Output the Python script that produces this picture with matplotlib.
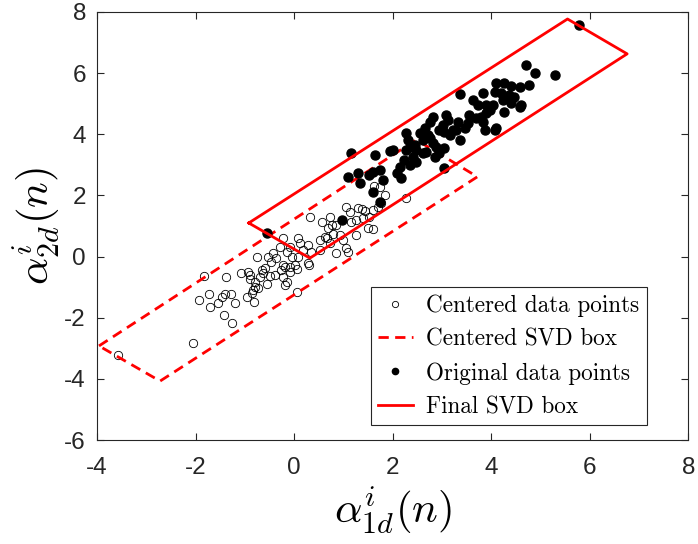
import numpy as np
import matplotlib
matplotlib.use("Agg")
import matplotlib.pyplot as plt
from matplotlib.lines import Line2D

plt.rcParams['mathtext.fontset'] = 'cm'
plt.rcParams['axes.unicode_minus'] = False

# centered data (open circles)
cx = [-1.83, -1.38, -1.93, -1.72, -1.71, -1.54, -1.47, -1.40, -1.28, -1.20,
      -1.43, -1.26, -2.05, -3.57, -1.07, -0.93, -0.90, -0.76, -0.96, -0.83,
      -0.80, -0.86, -0.82, -0.90, -0.70, -0.55, -0.59, -0.66,
      0.33, 1.06, 1.13, 1.30, 1.37, 1.43, 1.53, 1.60, 1.70, 1.77,
      1.84, 2.28, 0.56, 0.72, 0.76, 0.69, 0.86, 1.16, 1.26, 1.40,
      1.50, 1.60, 1.26, 0.93, 0.79, 0.67, 0.62, 0.52, 0.72, 1.06,
      1.09, 0.85, 0.08, 0.12, 0.28, 0.18, 0.35, 0.52, -0.22, -0.29,
      -0.09, -0.15, -0.05, 0.08, 0.01, 0.05, -0.09, 0.28, 0.30, -0.53,
      -0.43, -0.46, -0.36, -0.22, -0.19, -0.26, -0.63, -0.39, -0.49, -0.22,
      -0.15, -0.19, -0.09, -0.80, -0.73, 0.05, 0.99, 1.62, 1.75]
cy = [-0.63, -0.68, -1.42, -1.22, -1.64, -1.51, -1.33, -1.22, -1.22, -1.51,
      -1.91, -2.18, -2.84, -3.22, -0.55, -0.49, -0.60, 0.00, -1.33, -1.09,
      -0.98, -1.20, -1.48, -0.74, -0.68, -0.90, -0.38, -0.44,
      1.30, 1.63, 1.47, 1.60, 1.56, 1.49, 1.31, 1.52, 1.63, 1.74,
      2.01, 1.93, 1.14, 1.31, 1.03, 0.93, 1.03, 1.14, 1.20, 1.25,
      0.95, 0.90, 0.71, 0.71, 0.73, 0.60, 0.65, 0.54, 0.44, 0.27,
      0.16, 0.11, 0.60, 0.44, 0.38, 0.22, 0.16, 0.22, 0.60, 0.32,
      0.32, 0.16, 0.00, 0.00, -0.27, -0.41, -0.33, -0.22, -0.27, 0.00,
      0.11, -0.17, -0.06, -0.27, -0.33, -0.44, -0.55, -0.60, -0.62, -0.66,
      -0.82, -0.93, -0.49, -0.82, -1.04, -1.15, 0.54, 2.32, 2.28]

# original data (filled circles)
ox = [4.71, 4.88, 5.30, 5.79, 4.10, 4.27, 4.41, 4.58, 4.76, 4.07,
      4.20, 4.37, 4.47, 4.58, 4.61, 4.41, 4.24, 4.27, 3.83, 3.63,
      3.73, 3.90, 4.03, 3.56, 3.70, 3.80, 3.90, 3.97, 3.83, 3.87,
      4.10, 4.07, 3.36, 3.32, 3.29, 3.36, 3.46, 3.53, 2.82, 2.75,
      3.09, 3.12, 3.02, 2.95, 3.05, 3.22, 3.16, 2.28, 2.55, 2.65,
      2.72, 2.61, 2.75, 2.82, 2.89, 3.05, 2.95, 2.85, 2.68, 2.61,
      2.48, 2.45, 2.35, 2.28, 2.41, 2.48, 2.35, 2.24, 2.14, 2.08,
      2.18, 2.01, 1.94, 2.31, 3.05, 1.16, 1.64, 1.30, 1.09, 1.33,
      1.53, 1.60, 1.74, 1.80, 1.60, 1.74, 0.98, -0.54]
oy = [6.27, 6.02, 5.94, 7.58, 5.67, 5.67, 5.58, 5.56, 5.61, 5.39,
      5.34, 5.29, 5.23, 4.90, 4.96, 5.01, 5.12, 4.74, 5.34, 5.12,
      4.96, 4.96, 4.96, 4.63, 4.52, 4.58, 4.69, 4.80, 4.41, 4.14,
      4.20, 4.14, 5.31, 4.41, 4.14, 3.81, 4.20, 4.36, 4.58, 4.41,
      4.63, 4.47, 4.30, 4.14, 4.08, 4.14, 3.98, 4.03, 4.03, 4.20,
      3.98, 3.81, 3.87, 3.71, 3.59, 3.54, 3.38, 3.27, 3.43, 3.38,
      3.49, 3.65, 3.59, 3.49, 3.27, 3.10, 3.00, 3.16, 2.94, 2.72,
      2.56, 3.49, 3.45, 3.81, 2.89, 3.38, 3.32, 2.74, 2.61, 2.40,
      2.67, 2.78, 2.83, 2.51, 2.12, 1.80, 1.20, 0.76]

# SVD boxes (corner order: left, top, right, bottom, back to left)
cbox_x = [-3.96, 2.48, 3.72, -2.72, -3.96]
cbox_y = [-2.92, 3.82, 2.61, -4.07, -2.92]
fbox_x = [-0.92, 5.55, 6.76, 0.32, -0.92]
fbox_y = [1.10, 7.77, 6.63, -0.05, 1.10]

fig = plt.figure(figsize=(6.98, 5.44), dpi=100)
ax = fig.add_axes([0.139, 0.191, 0.847, 0.787])

ax.plot(cx, cy, 'o', ls='none', mfc='none', mec='k', mew=0.6, ms=6)
ax.plot(cbox_x, cbox_y, color='r', lw=2, dashes=(3.7, 2.3))
ax.plot(ox, oy, 'o', ls='none', mfc='k', mec='k', ms=6.5)
ax.plot(fbox_x, fbox_y, color='r', lw=2)

ax.set_xlim(-4, 8)
ax.set_ylim(-6, 8)
ax.set_xticks(np.arange(-4, 9, 2))
ax.set_yticks(np.arange(-6, 9, 2))

axcol = '#262626'
ax.tick_params(direction='in', length=5, width=0.8, top=True, right=True,
               colors=axcol, labelsize=17.5)
ax.tick_params(axis='x', pad=12)
ax.tick_params(axis='y', pad=8)
for lab in ax.get_xticklabels() + ax.get_yticklabels():
    lab.set_family('Liberation Sans')
for s in ax.spines.values():
    s.set_color(axcol)
    s.set_linewidth(0.8)

ax.set_xlabel(r'$\alpha^i_{1d}(n)$', fontsize=31, labelpad=4)
ax.set_ylabel(r'$\alpha^i_{2d}(n)$', fontsize=31, labelpad=2)

handles = [
    Line2D([], [], ls='none', marker='o', mfc='none', mec='k', mew=0.6, ms=4.5),
    Line2D([], [], color='r', lw=2, dashes=(3.7, 2.3)),
    Line2D([], [], ls='none', marker='o', mfc='k', mec='k', ms=4.5),
    Line2D([], [], color='r', lw=2),
]
labels = ['Centered data points', 'Centered SVD box',
          'Original data points', 'Final SVD box']
leg = ax.legend(handles, labels, loc='upper left', bbox_to_anchor=(0.463, 0.357),
                borderaxespad=0, fancybox=False, framealpha=1, handlelength=1.5,
                handletextpad=0.6, borderpad=0.3, labelspacing=0.5,
                prop={'family': 'cmr10', 'size': 16.7})
leg.get_frame().set_edgecolor(axcol)
leg.get_frame().set_linewidth(0.8)

fig.savefig('out.png', dpi=100)
